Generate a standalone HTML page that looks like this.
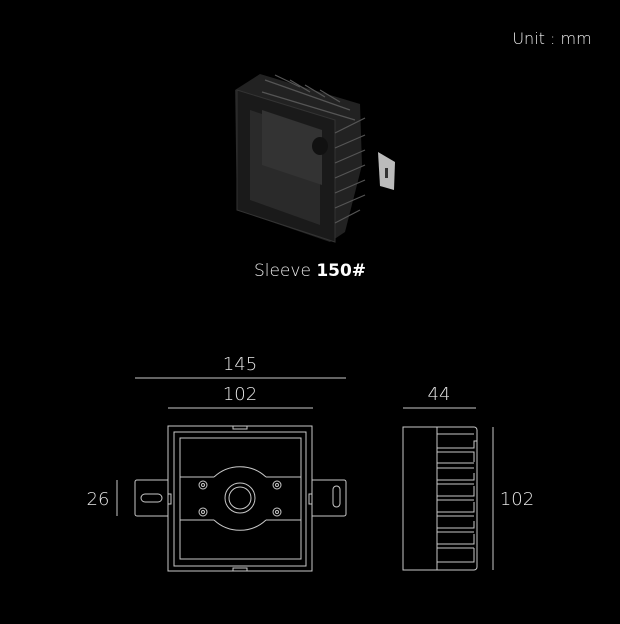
<!DOCTYPE html>
<html><head><style>
body{margin:0;background:#000;width:620px;height:620px;overflow:hidden;font-family:"DejaVu Sans","Liberation Sans",sans-serif;}
</style></head><body>
<svg width="620" height="620" viewBox="0 0 620 620" xmlns="http://www.w3.org/2000/svg">
<rect width="620" height="620" fill="#000"/>
<text x="552" y="44" fill="#eee" font-size="16" text-anchor="middle" font-family="DejaVu Sans, sans-serif" font-weight="300">Unit : mm</text>
<g>
<polygon points="235,90 260,74 360,104 362,165 345,232 330,242 237,210" fill="#222"/>
<polygon points="237,90 335,120 335,242 237,210" fill="#1a1a1a" stroke="#333"/>
<polygon points="250,110 320,133 320,225 250,200" fill="#2a2a2a"/>
<polygon points="262,110 322,130 322,185 262,165" fill="#333"/>
<g stroke="#555" stroke-width="1.2">
<line x1="265" y1="80" x2="350" y2="110"/><line x1="262" y1="92" x2="355" y2="120"/>
<line x1="275" y1="75" x2="300" y2="87"/><line x1="290" y1="80" x2="310" y2="92"/>
<line x1="305" y1="85" x2="325" y2="97"/><line x1="320" y1="90" x2="340" y2="102"/>
<line x1="335" y1="133" x2="365" y2="118"/><line x1="335" y1="148" x2="365" y2="135"/>
<line x1="335" y1="163" x2="365" y2="150"/><line x1="335" y1="178" x2="365" y2="165"/>
<line x1="335" y1="193" x2="365" y2="180"/><line x1="335" y1="208" x2="365" y2="195"/>
<line x1="335" y1="223" x2="360" y2="210"/>
</g>
<ellipse cx="320" cy="146" rx="8" ry="9" fill="#111"/>
<polygon points="378,152 395,162 394,190 380,186" fill="#bbb"/>
<rect x="385" y="168" width="3" height="10" fill="#333"/>
</g>
<text x="310" y="276" fill="#eee" font-size="17" text-anchor="middle" font-family="DejaVu Sans, sans-serif" font-weight="300">Sleeve <tspan font-weight="bold" fill="#fff">150#</tspan></text>
<g fill="#e6e6e6" font-size="18" text-anchor="middle" font-family="DejaVu Sans, sans-serif" font-weight="300">
<text x="240" y="370">145</text>
<text x="240" y="400">102</text>
<text x="439" y="400">44</text>
<text x="98" y="505">26</text>
<text x="517" y="505">102</text>
</g>
<g stroke="#c8c8c8" stroke-width="1" fill="none">
<line x1="135" y1="378" x2="346" y2="378"/>
<line x1="168" y1="408" x2="313" y2="408"/>
<line x1="403" y1="408" x2="476" y2="408"/>
<line x1="117" y1="480" x2="117" y2="516"/>
<line x1="493" y1="427" x2="493" y2="570"/>
<rect x="168" y="426" width="144" height="145"/>
<rect x="174" y="432" width="132" height="134"/>
<rect x="180" y="438" width="121" height="121"/>
<path d="M233,426 v3 h14 v-3 M233,571 v-3 h14 v3"/>
<line x1="180" y1="477" x2="214" y2="477"/><line x1="266" y1="477" x2="301" y2="477"/>
<line x1="180" y1="520" x2="214" y2="520"/><line x1="266" y1="520" x2="301" y2="520"/>
<path d="M214,477 A38,38 0 0 1 266,477"/>
<path d="M214,520 A38,38 0 0 0 266,520"/>
<path d="M168,480 h-31 a2,2 0 0 0 -2,2 v32 a2,2 0 0 0 2,2 h31"/>
<path d="M312,480 h32 a2,2 0 0 1 2,2 v32 a2,2 0 0 1 -2,2 h-32"/>
<rect x="141" y="494" width="21" height="8" rx="4"/>
<rect x="333" y="486" width="7" height="21" rx="3.5"/>
<rect x="168" y="494" width="3" height="10"/><rect x="309" y="494" width="3" height="10"/>
<circle cx="240" cy="498" r="15"/><circle cx="240" cy="498" r="11"/>
<circle cx="203" cy="485" r="4"/><circle cx="203" cy="485" r="1.5"/>
<circle cx="277" cy="485" r="4"/><circle cx="277" cy="485" r="1.5"/>
<circle cx="203" cy="512" r="4"/><circle cx="203" cy="512" r="1.5"/>
<circle cx="277" cy="512" r="4"/><circle cx="277" cy="512" r="1.5"/>
<path d="M403,427 h71 a3,3 0 0 1 3,3 v137 a3,3 0 0 1 -3,3 h-71 z"/>
<line x1="437" y1="427" x2="437" y2="570"/>
<path d="M437,434 h37 M437,448 h37 v-7 h3"/>
<path d="M437,452 h37 v10 M437,463 h37"/>
<path d="M437,468 h37 M437,480 h37 v-7"/>
<path d="M437,484 h37 M437,496 h37 v-10"/>
<path d="M437,500 h37 M437,512 h37 v-10"/>
<path d="M437,516 h37 M437,528 h37 v-7"/>
<path d="M437,532 h37 M437,544 h37 v-10"/>
<path d="M437,548 h37 M437,562 h37 v-14"/>
</g>
</svg>
</body></html>
